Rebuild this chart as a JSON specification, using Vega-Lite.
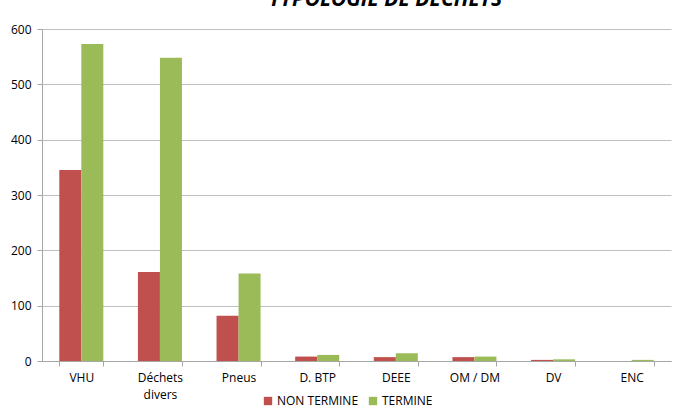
{
  "$schema": "https://vega.github.io/schema/vega-lite/v6.json",
  "autosize": {"type": "none"},
  "width": 629,
  "height": 332,
  "padding": {"left": 42, "top": 29, "right": 10, "bottom": 56},
  "background": "white",
  "title": {
    "text": "TYPOLOGIE DE DÉCHETS",
    "font": "Open Sans",
    "fontSize": 21,
    "fontWeight": "bold",
    "fontStyle": "italic",
    "color": "#000000",
    "anchor": "middle",
    "offset": 13,
    "dx": 29
  },
  "data": {
    "values": [
      {"cat": "VHU", "statut": "NON TERMINE", "n": 345},
      {"cat": "VHU", "statut": "TERMINE", "n": 573},
      {"cat": "Déchets divers", "statut": "NON TERMINE", "n": 161},
      {"cat": "Déchets divers", "statut": "TERMINE", "n": 548},
      {"cat": "Pneus", "statut": "NON TERMINE", "n": 82},
      {"cat": "Pneus", "statut": "TERMINE", "n": 158},
      {"cat": "D. BTP", "statut": "NON TERMINE", "n": 8},
      {"cat": "D. BTP", "statut": "TERMINE", "n": 11},
      {"cat": "DEEE", "statut": "NON TERMINE", "n": 7},
      {"cat": "DEEE", "statut": "TERMINE", "n": 14},
      {"cat": "OM / DM", "statut": "NON TERMINE", "n": 7},
      {"cat": "OM / DM", "statut": "TERMINE", "n": 8},
      {"cat": "DV", "statut": "NON TERMINE", "n": 2},
      {"cat": "DV", "statut": "TERMINE", "n": 3},
      {"cat": "ENC", "statut": "NON TERMINE", "n": 0},
      {"cat": "ENC", "statut": "TERMINE", "n": 2}
    ]
  },
  "mark": {"type": "bar"},
  "encoding": {
    "x": {
      "field": "cat",
      "type": "nominal",
      "sort": null,
      "scale": {"paddingInner": 0.44, "paddingOuter": 0.22},
      "axis": {
        "title": null,
        "labelAngle": 0,
        "labelExpr": "datum.label == 'Déchets divers' ? ['Déchets', 'divers'] : datum.label",
        "labelFont": "Open Sans",
        "labelFontSize": 12,
        "labelColor": "#000000",
        "labelPadding": 6,
        "labelLineHeight": 17,
        "domainColor": "#a6a6a6",
        "tickColor": "#a6a6a6",
        "tickSize": 5,
        "tickBand": "extent",
        "grid": false
      }
    },
    "xOffset": {"field": "statut", "type": "nominal"},
    "y": {
      "field": "n",
      "type": "quantitative",
      "scale": {"domain": [0, 600]},
      "axis": {
        "title": null,
        "values": [0, 100, 200, 300, 400, 500, 600],
        "labelFont": "Open Sans",
        "labelFontSize": 12,
        "labelColor": "#000000",
        "labelPadding": 6,
        "domainColor": "#a6a6a6",
        "tickColor": "#a6a6a6",
        "tickSize": 5,
        "gridColor": "#bfbfbf"
      }
    },
    "color": {
      "field": "statut",
      "type": "nominal",
      "scale": {"domain": ["NON TERMINE", "TERMINE"], "range": ["#C0504D", "#9BBB59"]},
      "legend": {
        "title": null,
        "orient": "none",
        "direction": "horizontal",
        "legendX": 220,
        "legendY": 366,
        "symbolType": "square",
        "symbolSize": 70,
        "symbolStrokeWidth": 0,
        "labelFont": "Open Sans",
        "labelFontSize": 12,
        "labelColor": "#000000",
        "columnPadding": 8,
        "labelOffset": 3
      }
    }
  },
  "config": {"view": {"stroke": null}}
}
